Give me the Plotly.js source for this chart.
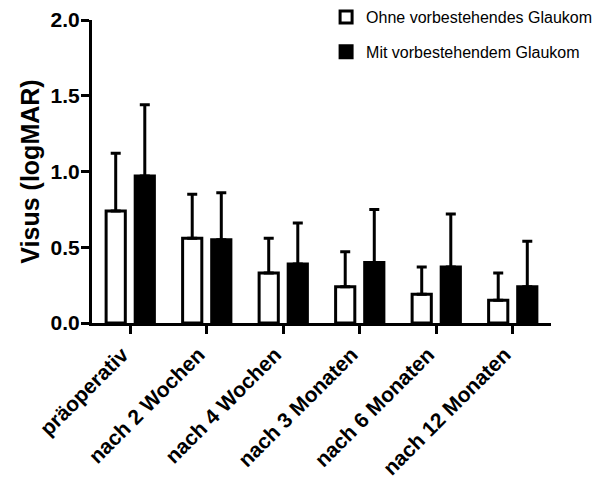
<!DOCTYPE html>
<html>
<head>
<meta charset="utf-8">
<script src="https://cdn.plot.ly/plotly-3.0.1.min.js"></script>
<style>html,body{margin:0;padding:0;background:#fff;}#chart{width:605px;height:486px;}</style>
</head>
<body>
<div id="chart"></div>
<script>
var categories = ["präoperativ", "nach 2 Wochen", "nach 4 Wochen", "nach 3 Monaten", "nach 6 Monaten", "nach 12 Monaten"];
var seriesNames = ["Ohne vorbestehendes Glaukom", "Mit vorbestehendem Glaukom"];
var ohneMean = [0.74, 0.56, 0.33, 0.24, 0.19, 0.15];
var ohneSD   = [0.38, 0.29, 0.23, 0.23, 0.18, 0.18];
var mitMean  = [0.97, 0.55, 0.39, 0.40, 0.37, 0.24];
var mitSD    = [0.47, 0.31, 0.27, 0.35, 0.35, 0.30];
var yTickVals = [0, 0.5, 1, 1.5, 2];
var yTickText = ["0.0", "0.5", "1.0", "1.5", "2.0"];

var font = "Liberation Sans, Arial, sans-serif";
var noMinus = categories.map(function(){ return 0; });

var traces = [
  {
    type: "bar", name: seriesNames[0], x: categories, y: ohneMean,
    marker: {color: "#ffffff", line: {color: "#000000", width: 3}},
    error_y: {type: "data", array: ohneSD, symmetric: false, arrayminus: noMinus, color: "#000000", thickness: 3, width: 5},
    legendgroup: "a"
  },
  {
    type: "bar", name: seriesNames[1], x: categories, y: mitMean,
    marker: {color: "#000000", line: {color: "#000000", width: 3}},
    error_y: {type: "data", array: mitSD, symmetric: false, arrayminus: noMinus, color: "#000000", thickness: 3, width: 5},
    legendgroup: "b"
  }
];

var layout = {
  width: 605, height: 486,
  margin: {l: 92, r: 54, t: 20, b: 163, autoexpand: false},
  paper_bgcolor: "#ffffff", plot_bgcolor: "#ffffff",
  font: {family: font, color: "#000000"},
  barmode: "group", bargap: 0.24, bargroupgap: 0.34,
  showlegend: true,
  legend: {
    xref: "paper", yref: "container",
    x: 0.51, y: 1.0, xanchor: "left", yanchor: "top",
    font: {family: font, size: 16, color: "#000000"},
    traceorder: "grouped", tracegroupgap: 11,
    bgcolor: "rgba(0,0,0,0)"
  },
  xaxis: {
    type: "category",
    showline: true, linecolor: "#000000", linewidth: 3,
    ticks: "outside", ticklen: 8, tickwidth: 3, tickcolor: "#000000",
    tickangle: -45, ticklabelshift: -8,
    tickfont: {family: font, size: 21, weight: "bold", color: "#000000"},
    showgrid: false, zeroline: false
  },
  yaxis: {
    range: [0, 2], tickvals: yTickVals, ticktext: yTickText,
    showline: true, linecolor: "#000000", linewidth: 3,
    ticks: "outside", ticklen: 8, tickwidth: 3, tickcolor: "#000000",
    ticklabelstandoff: -3,
    tickfont: {family: font, size: 21, weight: "bold", color: "#000000"},
    title: {text: "Visus (logMAR)", font: {family: font, size: 25, weight: "bold", color: "#000000"}, standoff: 4},
    showgrid: false, zeroline: false
  }
};

Plotly.newPlot("chart", traces, layout, {displayModeBar: false, staticPlot: true});
</script>
</body>
</html>
